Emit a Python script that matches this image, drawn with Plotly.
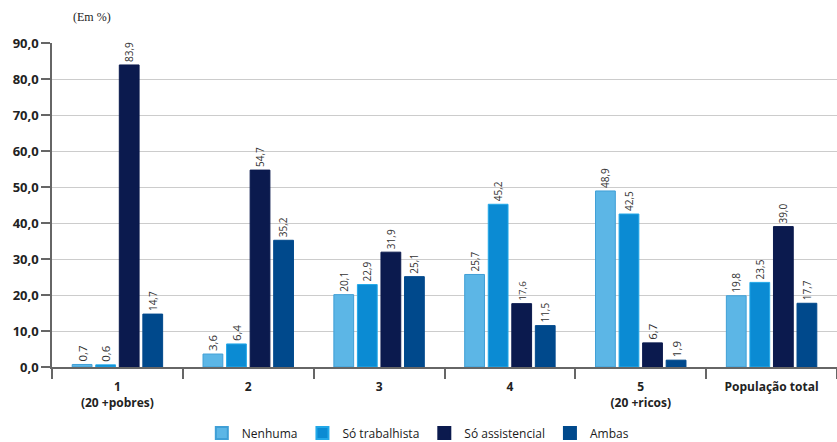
import plotly.graph_objects as go

categories = ["1<br>(20 +pobres)", "2", "3", "4", "5<br>(20 +ricos)", "População total"]
series_names = ["Nenhuma", "Só trabalhista", "Só assistencial", "Ambas"]
nenhuma = [0.7, 3.6, 20.1, 25.7, 48.9, 19.8]
so_trabalhista = [0.6, 6.4, 22.9, 45.2, 42.5, 23.5]
so_assistencial = [83.9, 54.7, 31.9, 17.6, 6.7, 39.0]
ambas = [14.7, 35.2, 25.1, 11.5, 1.9, 17.7]
y_ticks = [0, 10, 20, 30, 40, 50, 60, 70, 80, 90]

values = [nenhuma, so_trabalhista, so_assistencial, ambas]
colors = ["#5cb6e6", "#0b8bd3", "#0b1a4e", "#00498c"]
lines = ["#3f9fd6", "#22a8e8", "#0b1a4e", "#00498c"]

fig = go.Figure()
for name, vals, c, lc in zip(series_names, values, colors, lines):
    fig.add_trace(go.Bar(
        x=categories, y=vals, name=name,
        marker=dict(color=c, line=dict(color=lc, width=1)),
        texttemplate="%{y:.1f}", textposition="outside", textangle=-90,
        textfont=dict(family="Open Sans", size=11.5, color="#333333"),
        cliponaxis=False,
    ))

fig.update_layout(
    width=837, height=442,
    margin=dict(l=52, r=0, t=43, b=75, autoexpand=False),
    plot_bgcolor="white", paper_bgcolor="white",
    separators=",.",
    barmode="group", bargap=0.28, bargroupgap=0.16,
    font=dict(family="Open Sans", color="#333333"),
    legend=dict(orientation="h", x=0.466, xanchor="center", y=-(433 - 367) / 324, yanchor="middle",
                font=dict(size=12, color="#1a1a1a"), traceorder="normal",
                itemwidth=30, itemsizing="constant"),
)
fig.add_annotation(text="(Em %)", xref="paper", yref="paper", x=(92 - 52) / 785, y=1 + (43 - 17) / 324,
                   xanchor="center", yanchor="middle", showarrow=False,
                   font=dict(family="Liberation Serif", size=12, color="#222222"))

fig.update_yaxes(range=[0, 90], tickvals=y_ticks, tickformat=".1f",
                 showgrid=True, gridcolor="#cccccc", gridwidth=1,
                 showline=True, linecolor="#666666", linewidth=1.5,
                 ticks="outside", ticklen=9, tickcolor="#666666", tickwidth=1.5,
                 tickfont=dict(family="Open Sans", size=13, color="#222222", weight="bold"),
                 zeroline=False)
fig.update_xaxes(showline=True, linecolor="#666666", linewidth=1.5,
                 ticks="outside", tickson="boundaries", ticklen=10, tickcolor="#666666", tickwidth=1.5,
                 ticklabelstandoff=8,
                 tickfont=dict(family="Open Sans", size=12, color="#222222", weight="bold"))

fig.write_html("out.html")
